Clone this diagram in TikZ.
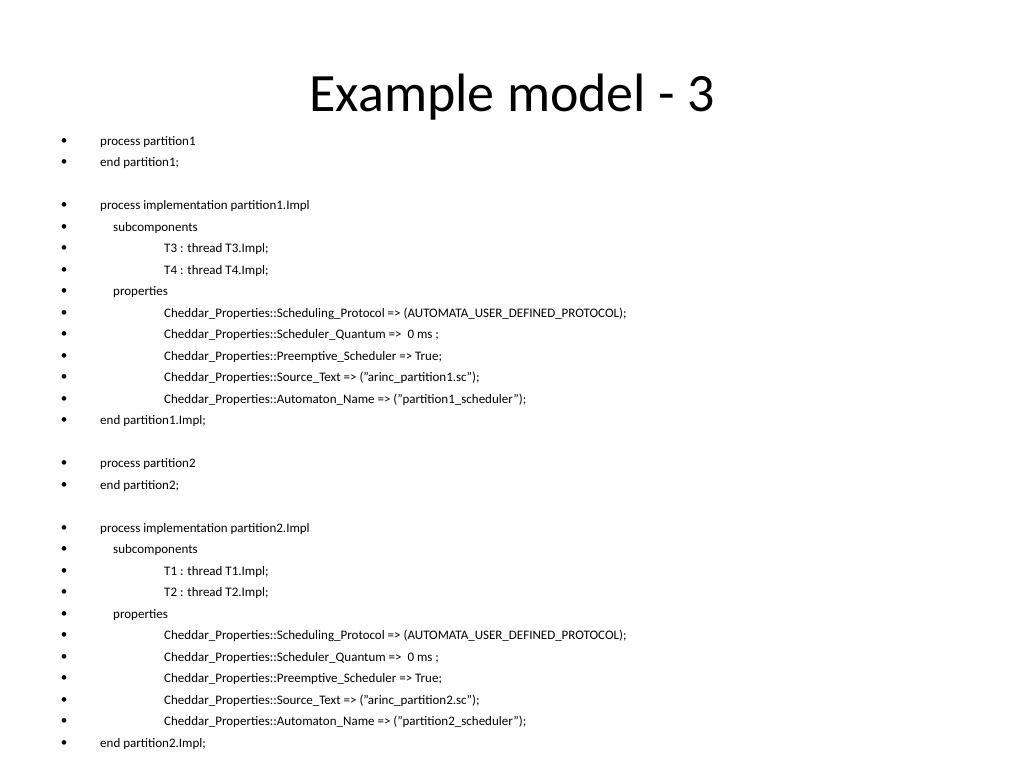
\documentclass[tikz,border=0pt]{standalone}
\usepackage{fontspec}
\setmainfont{Carlito}
\begin{document}
\begin{tikzpicture}[x=1pt,y=-1pt,
  ln/.style={anchor=west,inner sep=0pt,font=\fontsize{13}{15}\selectfont},
  bl/.style={anchor=center,inner sep=0pt,font=\fontsize{13}{15}\selectfont}]
\useasboundingbox (0,0) rectangle (1024,768);
\node[inner sep=0pt,font=\fontsize{54}{60}\selectfont] (title) at (512,97) {Example model - 3};
\foreach \y/\x/\t [count=\i] in {
142/100/{process partition1},
163/100/{end partition1;},
206/100/{process implementation partition1.Impl},
228/113/{subcomponents},
249/164/{T3 : thread T3.Impl;},
271/164/{T4 : thread T4.Impl;},
292/113/{properties},
314/164/{Cheddar\_Properties::Scheduling\_Protocol => (AUTOMATA\_USER\_DEFINED\_PROTOCOL);},
335/164/{Cheddar\_Properties::Scheduler\_Quantum =>\ \ 0 ms ;},
357/164/{Cheddar\_Properties::Preemptive\_Scheduler => True;},
378/164/{Cheddar\_Properties::Source\_Text => ("arinc\_partition1.sc");},
400/164/{Cheddar\_Properties::Automaton\_Name => ("partition1\_scheduler");},
421/100/{end partition1.Impl;},
464/100/{process partition2},
486/100/{end partition2;},
529/100/{process implementation partition2.Impl},
550/113/{subcomponents},
572/164/{T1 : thread T1.Impl;},
593/164/{T2 : thread T2.Impl;},
615/113/{properties},
636/164/{Cheddar\_Properties::Scheduling\_Protocol => (AUTOMATA\_USER\_DEFINED\_PROTOCOL);},
658/164/{Cheddar\_Properties::Scheduler\_Quantum =>\ \ 0 ms ;},
679/164/{Cheddar\_Properties::Preemptive\_Scheduler => True;},
701/164/{Cheddar\_Properties::Source\_Text => ("arinc\_partition2.sc");},
722/164/{Cheddar\_Properties::Automaton\_Name => ("partition2\_scheduler");},
744/100/{end partition2.Impl;}}
{
  \node[bl] (b\i) at (64,\y) {•};
  \node[ln] (l\i) at (\x,\y) {\t};
}
\end{tikzpicture}
\end{document}
